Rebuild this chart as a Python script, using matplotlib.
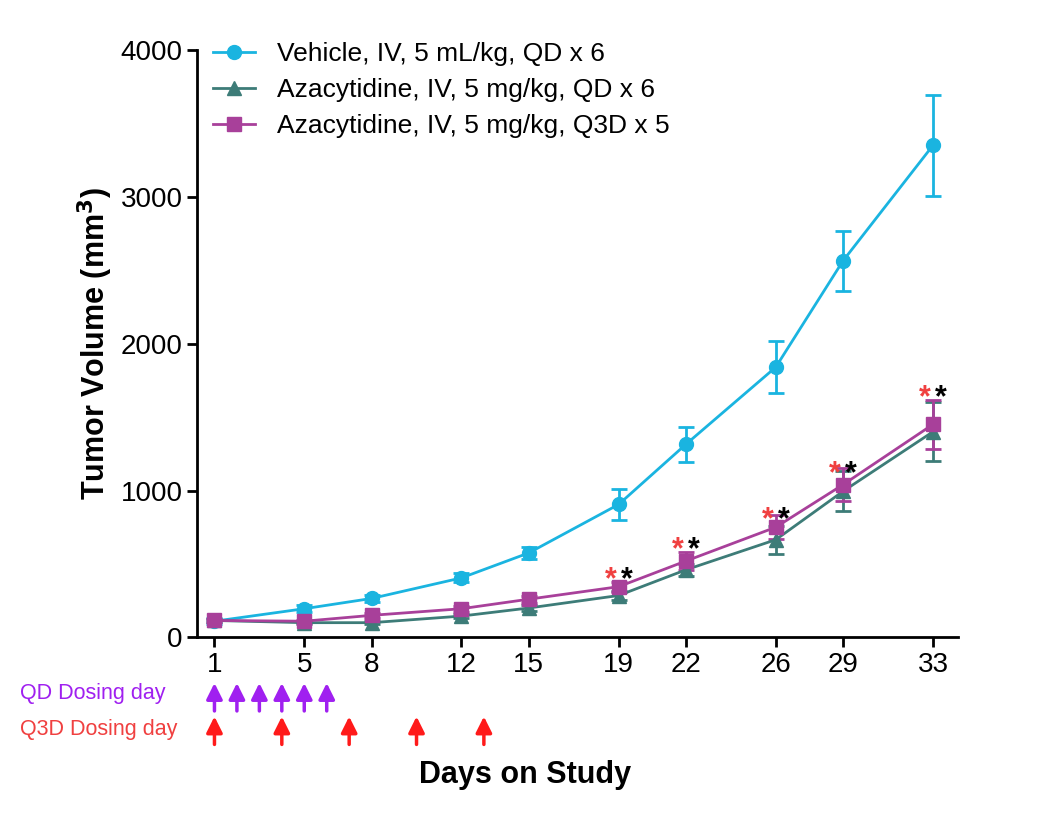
import matplotlib.pyplot as plt
from matplotlib.lines import Line2D
from matplotlib.transforms import blended_transform_factory

plt.rcParams['font.family'] = ['Liberation Sans', 'DejaVu Sans']

days = [1, 5, 8, 12, 15, 19, 22, 26, 29, 33]
vehicle = [110, 195, 265, 405, 575, 905, 1315, 1840, 2565, 3350]
vehicle_err = [20, 25, 25, 30, 40, 105, 120, 175, 205, 345]
aza_qd = [115, 100, 100, 145, 200, 285, 460, 665, 995, 1400]
aza_qd_err = [10, 10, 10, 15, 20, 30, 40, 95, 135, 200]
aza_q3d = [115, 110, 150, 195, 260, 345, 520, 750, 1040, 1450]
aza_q3d_err = [10, 10, 15, 20, 25, 35, 60, 80, 110, 165]
star_days = [19, 22, 26, 29, 33]
star_y = [390, 590, 800, 1110, 1630]
qd_days = [1, 2, 3, 4, 5, 6]
q3d_days = [1, 4, 7, 10, 13]

labels = ['Vehicle, IV, 5 mL/kg, QD x 6', 'Azacytidine, IV, 5 mg/kg, QD x 6',
          'Azacytidine, IV, 5 mg/kg, Q3D x 5']
colors = ['#1ab4e0', '#3d7c78', '#a8409a']
markers = ['o', '^', 's']

fig = plt.figure(figsize=(10.5, 8.14), dpi=100)
ax = fig.add_axes([0.188, 0.217, 0.724, 0.7216])

for y, e, c, m in zip([vehicle, aza_qd, aza_q3d], [vehicle_err, aza_qd_err, aza_q3d_err],
                      colors, markers):
    ax.errorbar(days, y, yerr=e, color=c, marker=m, ms=10, lw=2, capsize=6,
                capthick=2, elinewidth=2)

for d, y in zip(star_days, star_y):
    ax.text(d - 0.35, y, '*', color='#f04040', fontsize=22, fontweight='bold',
            ha='center', va='center')
    ax.text(d + 0.35, y, '*', color='black', fontsize=22, fontweight='bold',
            ha='center', va='center')

ax.set_xlim(0.24, 34.1)
ax.set_ylim(0, 4000)
ax.set_xticks(days)
ax.set_yticks([0, 1000, 2000, 3000, 4000])
ax.tick_params(labelsize=20, width=2, length=7)
for s in ['top', 'right']:
    ax.spines[s].set_visible(False)
for s in ['left', 'bottom']:
    ax.spines[s].set_linewidth(2)
ax.set_ylabel('Tumor Volume (mm$^\\mathbf{3}$)', fontsize=22, fontweight='bold')
fig.text(0.5, 1 - 775 / 814, 'Days on Study', fontsize=22, fontweight='bold',
         ha='center', va='center')

handles = [Line2D([], [], color=c, marker=m, ms=10, lw=2) for c, m in zip(colors, markers)]
ax.legend(handles, labels, loc='upper left', bbox_to_anchor=(0.0, 1.04), frameon=False,
          fontsize=19, handlelength=1.6, borderaxespad=0.2, labelspacing=0.45)

tr = blended_transform_factory(ax.transData, ax.transAxes)
for d in qd_days:
    ax.annotate('', xy=(d, -0.073), xytext=(d, -0.13), xycoords=tr, textcoords=tr,
                annotation_clip=False,
                arrowprops=dict(arrowstyle='-|>', color='#a020f0', lw=2.5, mutation_scale=24))
for d in q3d_days:
    ax.annotate('', xy=(d, -0.13), xytext=(d, -0.187), xycoords=tr, textcoords=tr,
                annotation_clip=False,
                arrowprops=dict(arrowstyle='-|>', color='#ff1a1a', lw=2.5, mutation_scale=24))
fig.text(20 / 1050, 1 - 694 / 814, 'QD Dosing day', color='#a020f0', fontsize=15.5, va='center')
fig.text(20 / 1050, 1 - 729 / 814, 'Q3D Dosing day', color='#f04040', fontsize=15.5, va='center')

fig.savefig('out.png', dpi=100)
